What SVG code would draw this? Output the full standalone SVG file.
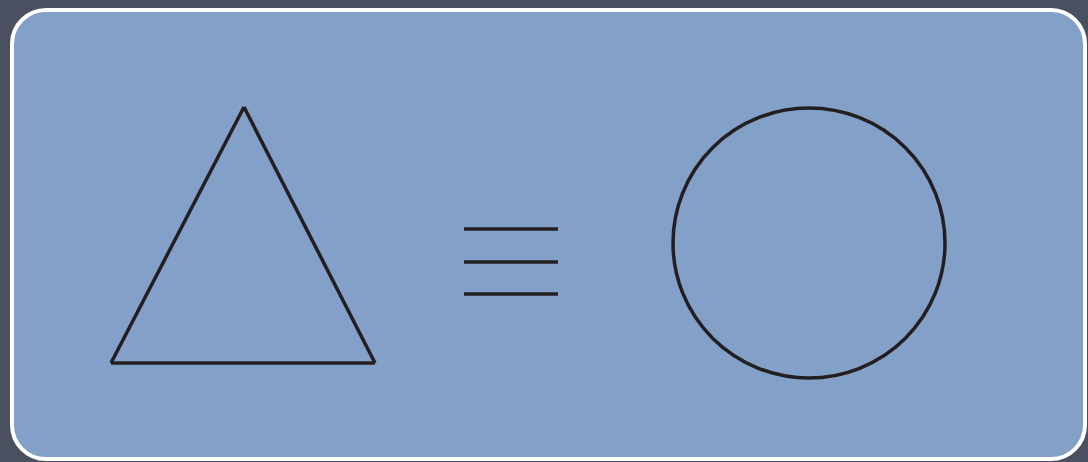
<svg xmlns="http://www.w3.org/2000/svg" width="1088" height="462" viewBox="0 0 1088 462">
<style>
.shape{fill:none;stroke:#231f20;stroke-width:3.5}
</style>
<rect x="0" y="0" width="1088" height="462" fill="#4b5060"/>
<rect id="panel" x="12" y="10" width="1073" height="449" rx="34" ry="34" fill="#82a0c8" stroke="#ffffff" stroke-width="4"/>
<g id="triangle"><line class="shape" x1="111" y1="363" x2="375" y2="363"/><line class="shape" x1="111" y1="363" x2="244" y2="107"/><line class="shape" x1="244" y1="107" x2="375" y2="363"/></g>
<g id="equiv"><line class="shape" x1="464" y1="229" x2="558" y2="229"/><line class="shape" x1="464" y1="262" x2="558" y2="262"/><line class="shape" x1="464" y1="294" x2="558" y2="294"/></g>
<g id="circle"><ellipse class="shape" cx="809" cy="243" rx="136" ry="135"/></g>
<g id="connectors"></g>
</svg>
